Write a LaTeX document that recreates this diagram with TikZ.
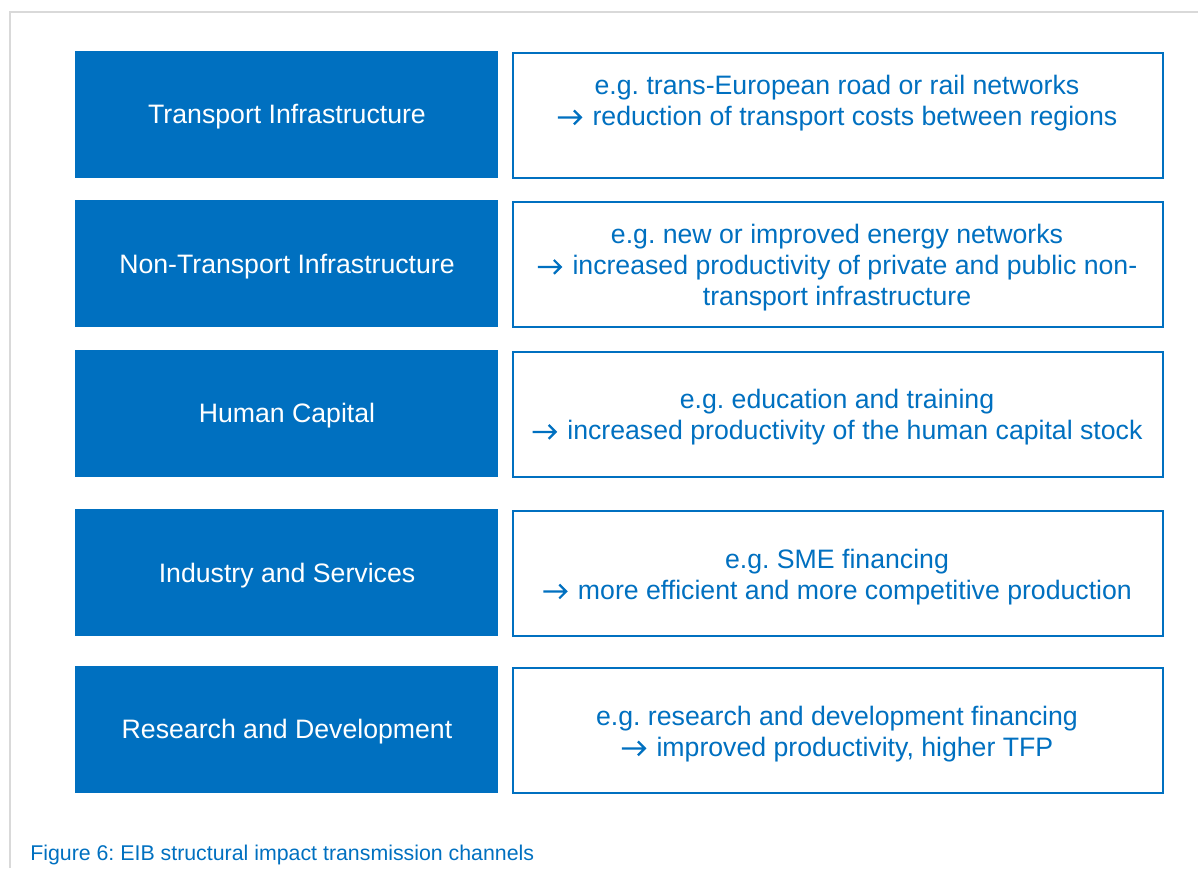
\documentclass[tikz,border=0pt]{standalone}
\usepackage{fontspec}
\setmainfont{Liberation Sans}
\frenchspacing
\definecolor{eibblue}{HTML}{0070C0}
\definecolor{framegray}{HTML}{D9D9D9}
\newcommand{\warr}{\tikz[baseline=0pt]{\draw[draw=eibblue, line width=0.085em, line join=miter, line cap=butt] (0em,0.3em) -- (0.86em,0.3em) (0.6em,0.56em) -- (0.86em,0.3em) -- (0.6em,0.04em);}\hspace{0.12em}}
\begin{document}
\begin{tikzpicture}[x=0.75pt,y=-0.75pt,
  leftbox/.style={fill=eibblue, draw=none, anchor=north west, inner sep=0pt,
    minimum width=317.25pt, minimum height=95.25pt},
  rightbox/.style={draw=eibblue, line width=1.5pt, fill=white, anchor=north west, inner sep=0pt,
    minimum width=487.5pt, minimum height=93.75pt},
  lefttext/.style={text=white, font=\fontsize{20}{23.25}\selectfont, inner sep=0pt, align=center},
  righttext/.style={text=eibblue, font=\fontsize{20}{23.25}\selectfont, inner sep=0pt, align=center},
  captiontext/.style={text=eibblue, font=\fontsize{16}{19}\selectfont, inner sep=0pt, anchor=base west},
  frameline/.style={draw=framegray, line width=1.5pt}
]
\useasboundingbox (0,0) rectangle (1198,868);
\coordinate (fb) at (10,868);
\coordinate (fc) at (10,12);
\coordinate (fr) at (1198,12);
\draw[frameline] (fb) -- (fc) -- (fr);

% row 1
\node[leftbox] (l1) at (75,51) {};
\node[rightbox] (r1) at (512,52) {};
\node[lefttext] (l1t) at (287,117) {Transport Infrastructure};
\node[righttext] (r1t) at (837,103) {e.g. trans-European road or rail networks\\\warr\ reduction of transport costs between regions};

% row 2
\node[leftbox] (l2) at (75,200) {};
\node[rightbox] (r2) at (512,201) {};
\node[lefttext] (l2t) at (287,267) {Non-Transport Infrastructure};
\node[righttext] (r2t) at (837,268) {e.g. new or improved energy networks\\\warr\ increased productivity of private and public non-\\transport infrastructure};

% row 3
\node[leftbox] (l3) at (75,350) {};
\node[rightbox] (r3) at (512,351) {};
\node[lefttext] (l3t) at (287,416) {Human Capital};
\node[righttext] (r3t) at (837,417.5) {e.g. education and training\\\warr\ increased productivity of the human capital stock};

% row 4
\node[leftbox] (l4) at (75,509) {};
\node[rightbox] (r4) at (512,510) {};
\node[lefttext] (l4t) at (287,576) {Industry and Services};
\node[righttext] (r4t) at (837,577) {e.g. SME financing\\\warr\ more efficient and more competitive production};

% row 5
\node[leftbox] (l5) at (75,666) {};
\node[rightbox] (r5) at (512,667) {};
\node[lefttext] (l5t) at (287,732) {Research and Development};
\node[righttext] (r5t) at (837,734) {e.g. research and development financing\\\warr\ improved productivity, higher TFP};

\node[captiontext] (cap) at (30,860) {Figure 6: EIB structural impact transmission channels};
\end{tikzpicture}
\end{document}
